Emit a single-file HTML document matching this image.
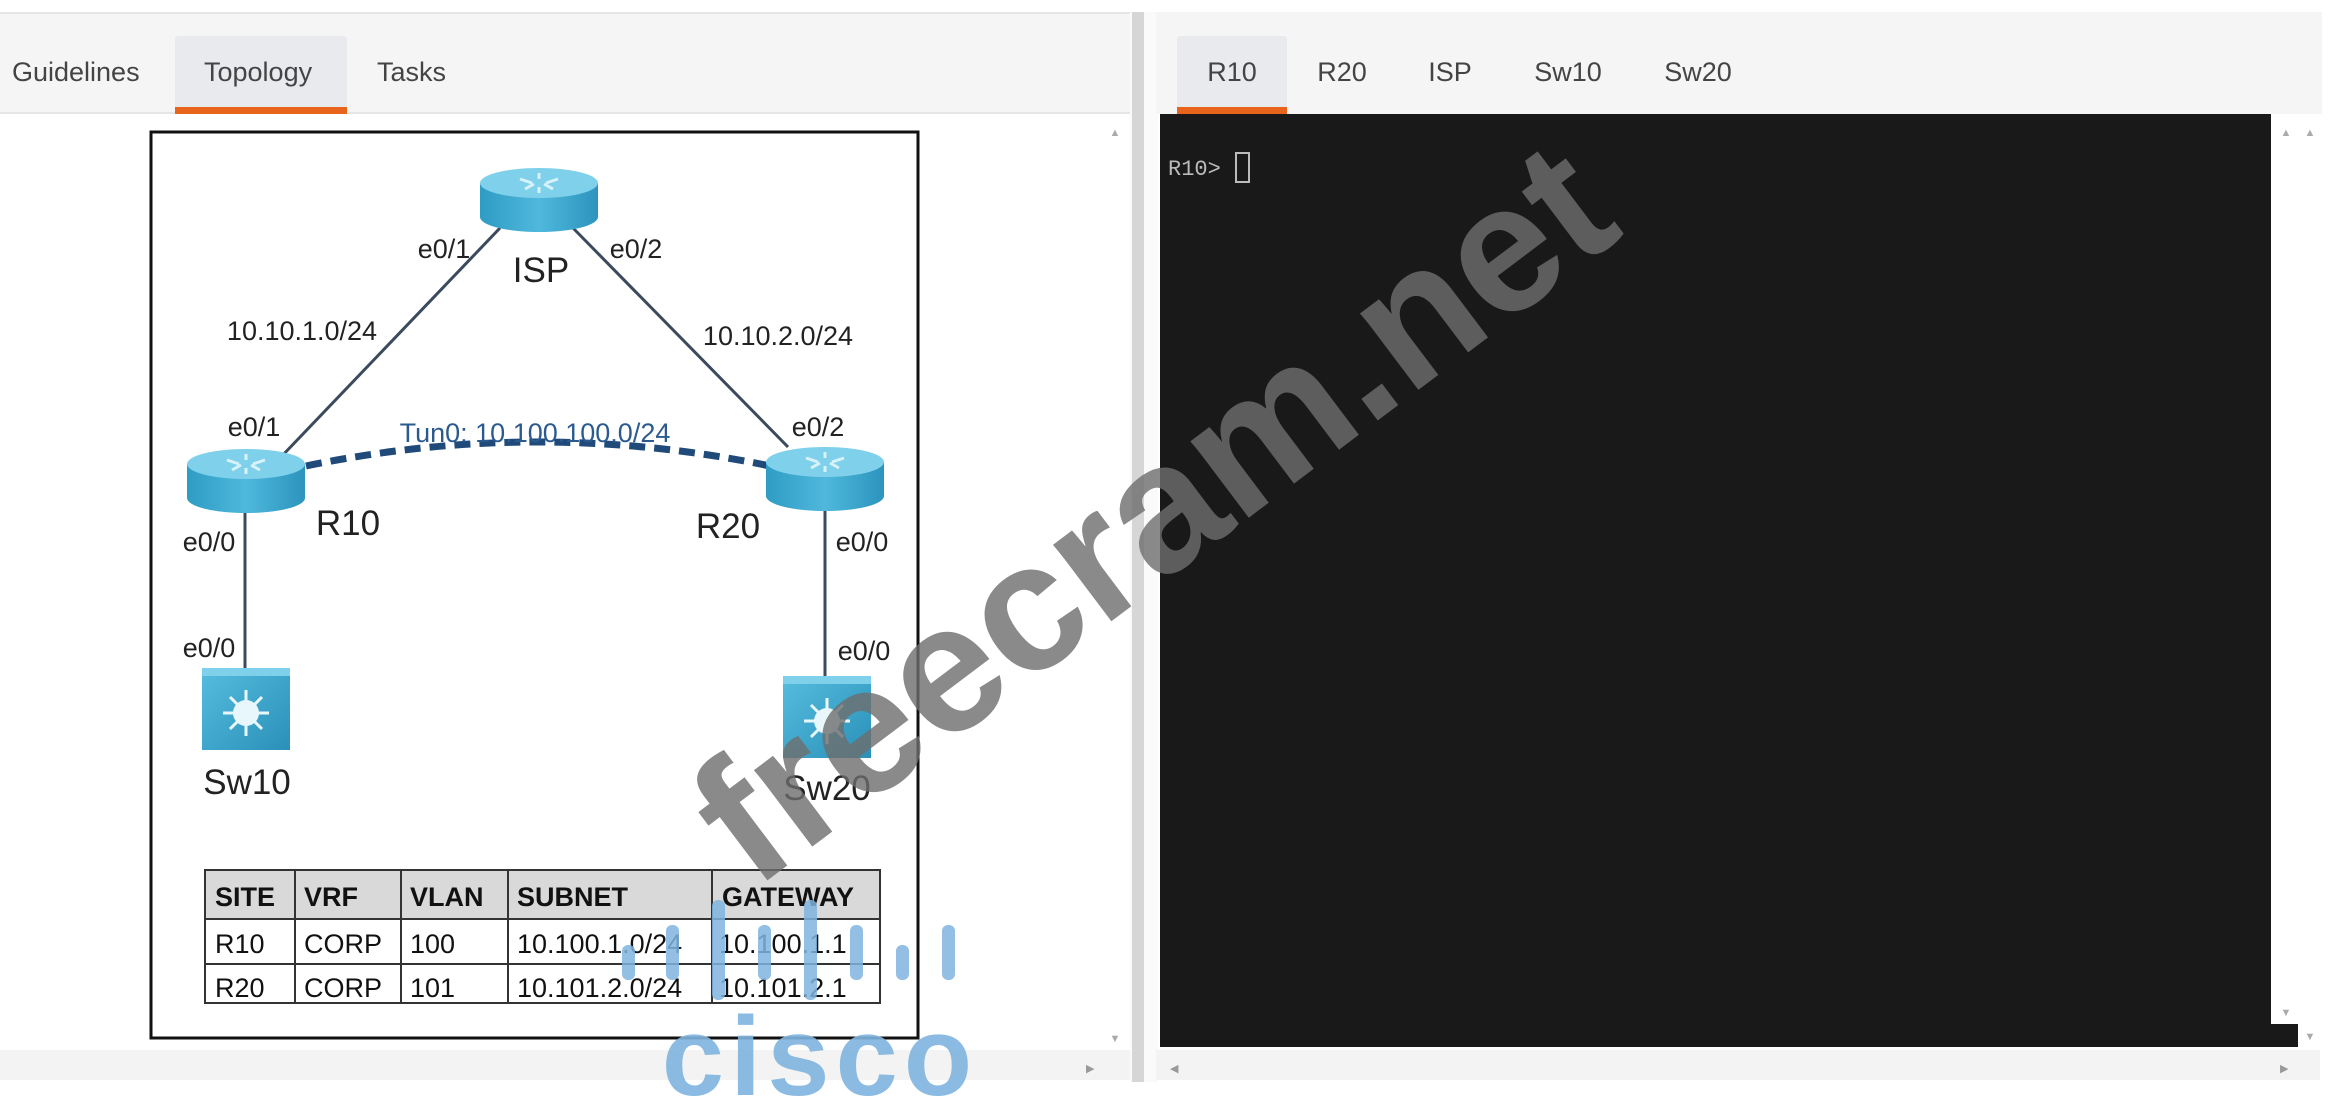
<!DOCTYPE html>
<html><head><meta charset="utf-8"><style>
html,body{margin:0;padding:0;width:2332px;height:1096px;overflow:hidden;background:#fff;font-family:"Liberation Sans",Arial,sans-serif}
svg{position:absolute;left:0;top:0}
</style></head><body>
<svg width="2332" height="1096" viewBox="0 0 2332 1096" xmlns="http://www.w3.org/2000/svg" font-family="Liberation Sans, Arial, sans-serif">
<defs>
<linearGradient id="rb" x1="0" x2="1" y1="0" y2="0">
<stop offset="0" stop-color="#2f9cc4"/><stop offset="0.5" stop-color="#4fb8dc"/><stop offset="1" stop-color="#2c94bd"/>
</linearGradient>
<linearGradient id="sw" x1="0" x2="1" y1="0" y2="1">
<stop offset="0" stop-color="#56bddf"/><stop offset="1" stop-color="#2a90b8"/>
</linearGradient>
<g id="router">
<path d="M0 16 V50 A59 15 0 0 0 118 50 V16 Z" fill="url(#rb)"/>
<ellipse cx="59" cy="16" rx="59" ry="15" fill="#7fd0ea"/>
<g stroke="#d8f2fb" stroke-width="3" fill="none">
<path d="M40 12 L52 16 M78 12 L66 16 M45 22 L54 17 M73 22 L64 17 M59 6 V12 M59 26 V20"/>
</g>
</g>
<g id="switch">
<rect x="0" y="0" width="88" height="82" fill="url(#sw)"/>
<rect x="0" y="0" width="88" height="8" fill="#7fd0ea"/>
<circle cx="44" cy="45" r="13" fill="#e8f7fc"/>
<g stroke="#e8f7fc" stroke-width="3">
<path d="M44 22 V68 M21 45 H67 M28 29 L60 61 M60 29 L28 61"/>
</g>
</g>
</defs>

<rect x="0" y="0" width="2332" height="12" fill="#fff"/>
<rect x="0" y="12" width="1130" height="102" fill="#f5f5f5"/>
<rect x="0" y="12" width="1130" height="2" fill="#e4e4e4"/>
<rect x="0" y="112" width="1130" height="2" fill="#e6e6e6"/>
<rect x="175" y="36" width="172" height="78" fill="#e8eaee" rx="3"/>
<rect x="175" y="107" width="172" height="7" fill="#e8641c"/>
<text x="12" y="81" font-size="27" fill="#444">Guidelines</text>
<text x="204" y="81" font-size="27" fill="#444">Topology</text>
<text x="377" y="81" font-size="27" fill="#444">Tasks</text>

<rect x="1130" y="12" width="28" height="1070" fill="#fafafa"/>
<rect x="1132" y="12" width="12" height="1070" fill="#d6d6d6"/>

<rect x="1156" y="12" width="1166" height="102" fill="#f5f5f5"/>
<rect x="1177" y="36" width="110" height="78" fill="#e8eaee" rx="3"/>
<rect x="1177" y="107" width="110" height="7" fill="#e8641c"/>
<g font-size="27" fill="#444" text-anchor="middle">
<text x="1232" y="81">R10</text><text x="1342" y="81">R20</text><text x="1450" y="81">ISP</text><text x="1568" y="81">Sw10</text><text x="1698" y="81">Sw20</text>
</g>

<rect x="1160" y="114" width="1111" height="933" fill="#191919"/>
<rect x="2271" y="1024" width="27" height="23" fill="#191919"/>
<text x="1168" y="175" font-size="22" fill="#bbb" font-family="Liberation Mono, monospace">R10&gt;</text>
<rect x="1236" y="153" width="13" height="29" fill="none" stroke="#bbb" stroke-width="2"/>
<text x="2286" y="136" font-size="11" fill="#aaa" text-anchor="middle">▲</text>
<text x="2310" y="136" font-size="11" fill="#aaa" text-anchor="middle">▲</text>
<text x="2286" y="1016" font-size="11" fill="#aaa" text-anchor="middle">▼</text>
<text x="2310" y="1040" font-size="11" fill="#aaa" text-anchor="middle">▼</text>
<rect x="1156" y="1050" width="1164" height="30" fill="#f3f3f3"/>
<text x="1170" y="1072" font-size="11" fill="#999">◀</text>
<text x="2280" y="1072" font-size="11" fill="#999">▶</text>

<text x="1115" y="136" font-size="11" fill="#aaa" text-anchor="middle">▲</text>
<text x="1115" y="1042" font-size="11" fill="#aaa" text-anchor="middle">▼</text>
<rect x="0" y="1050" width="1130" height="30" fill="#f3f3f3"/>
<text x="1086" y="1072" font-size="11" fill="#999">▶</text>

<rect x="151" y="132" width="767" height="906" fill="#fff" stroke="#111" stroke-width="3"/>

<g stroke="#3b4a5c" stroke-width="3">
<line x1="500" y1="228" x2="280" y2="458"/>
<line x1="573" y1="228" x2="788" y2="447"/>
<line x1="245" y1="508" x2="245" y2="668"/>
<line x1="825" y1="506" x2="825" y2="676"/>
</g>
<path d="M306 466 Q538 418 770 466" fill="none" stroke="#1f4a7a" stroke-width="7" stroke-dasharray="16 9"/>

<use href="#router" x="480" y="167"/>
<use href="#router" x="187" y="448"/>
<use href="#router" x="766" y="446"/>
<use href="#switch" x="202" y="668"/>
<use href="#switch" x="783" y="676"/>

<g font-size="27" fill="#222">
<text x="444" y="258" text-anchor="middle">e0/1</text>
<text x="636" y="258" text-anchor="middle">e0/2</text>
<text x="302" y="340" text-anchor="middle">10.10.1.0/24</text>
<text x="778" y="345" text-anchor="middle">10.10.2.0/24</text>
<text x="254" y="436" text-anchor="middle">e0/1</text>
<text x="818" y="436" text-anchor="middle">e0/2</text>
<text x="209" y="551" text-anchor="middle">e0/0</text>
<text x="862" y="551" text-anchor="middle">e0/0</text>
<text x="209" y="657" text-anchor="middle">e0/0</text>
<text x="864" y="660" text-anchor="middle">e0/0</text>
</g>
<text x="535" y="442" font-size="27" fill="#2a5a8e" text-anchor="middle">Tun0: 10.100.100.0/24</text>
<g font-size="35" fill="#222" text-anchor="middle">
<text x="541" y="282">ISP</text>
<text x="348" y="535">R10</text>
<text x="728" y="538">R20</text>
<text x="247" y="794">Sw10</text>
<text x="827" y="800">Sw20</text>
</g>

<rect x="205" y="870" width="675" height="49" fill="#d9d9d9"/>
<g stroke="#333" stroke-width="2" fill="none">
<rect x="205" y="870" width="675" height="133"/>
<line x1="205" y1="919" x2="880" y2="919"/>
<line x1="205" y1="964" x2="880" y2="964"/>
<line x1="295" y1="870" x2="295" y2="1003"/>
<line x1="401" y1="870" x2="401" y2="1003"/>
<line x1="508" y1="870" x2="508" y2="1003"/>
<line x1="712" y1="870" x2="712" y2="1003"/>
</g>
<g font-size="27" fill="#111">
<g font-weight="bold">
<text x="215" y="906">SITE</text><text x="304" y="906">VRF</text><text x="410" y="906">VLAN</text><text x="517" y="906">SUBNET</text><text x="722" y="906">GATEWAY</text>
</g>
<text x="215" y="953">R10</text><text x="304" y="953">CORP</text><text x="410" y="953">100</text><text x="517" y="953">10.100.1.0/24</text><text x="719" y="953">10.100.1.1</text>
<text x="215" y="997">R20</text><text x="304" y="997">CORP</text><text x="410" y="997">101</text><text x="517" y="997">10.101.2.0/24</text><text x="719" y="997">10.101.2.1</text>
</g>

<g fill="#7fb4df" opacity="0.85">
<rect x="622" y="945" width="13" height="35" rx="6"/>
<rect x="666" y="925" width="13" height="55" rx="6"/>
<rect x="712" y="900" width="13" height="100" rx="6"/>
<rect x="758" y="925" width="13" height="55" rx="6"/>
<rect x="804" y="900" width="13" height="100" rx="6"/>
<rect x="850" y="925" width="13" height="55" rx="6"/>
<rect x="896" y="945" width="13" height="35" rx="6"/>
<rect x="942" y="925" width="13" height="55" rx="6"/>
</g>
<text x="820" y="1095" font-size="112" font-weight="bold" fill="#7fb4df" opacity="0.9" text-anchor="middle" letter-spacing="6">cisco</text>

<text transform="translate(1190,562) rotate(-37)" font-size="182" font-weight="bold" fill="#6e6e6e" opacity="0.8" text-anchor="middle">freecram.net</text>
</svg>
</body></html>
